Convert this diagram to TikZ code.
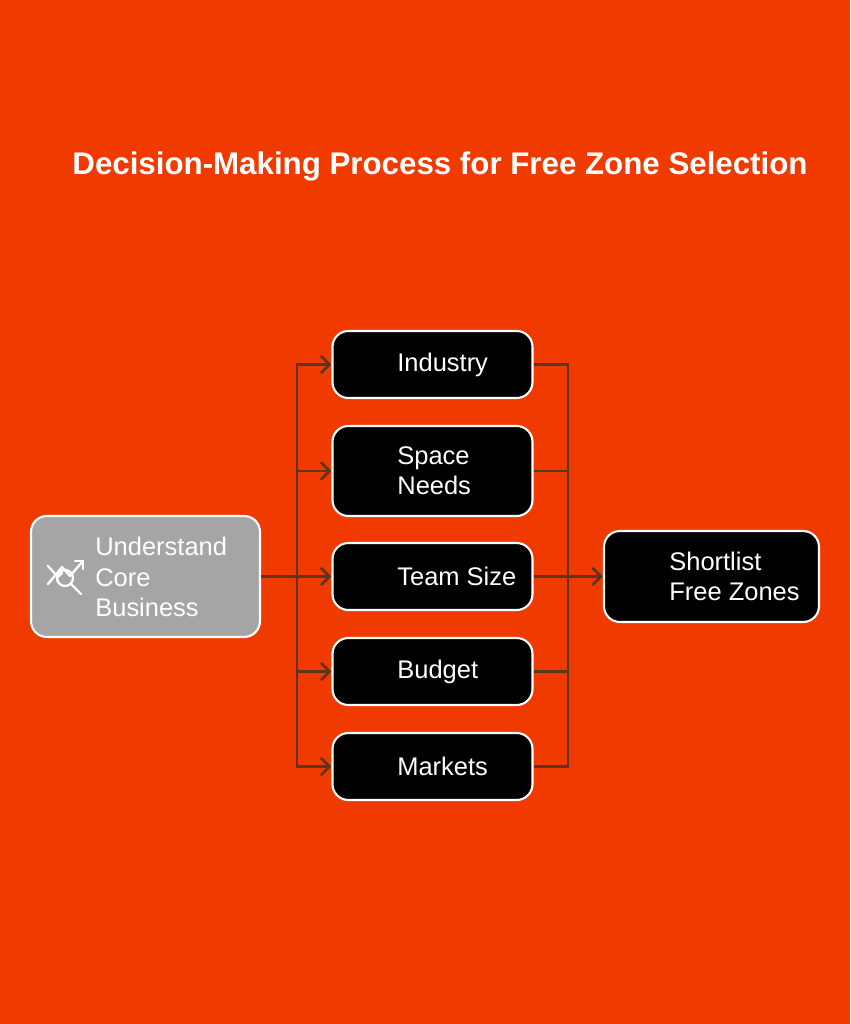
\documentclass[tikz,border=0pt]{standalone}
\usepackage{fontspec}
\setmainfont{Liberation Sans}
\usetikzlibrary{arrows.meta}
\definecolor{bgorange}{HTML}{F03A00}
\definecolor{linebrown}{HTML}{5C3420}
\definecolor{boxgrey}{HTML}{A5A5A5}
\tikzset{
  stepbox/.style={draw=white, line width=1.2pt, fill=black, rounded corners=9pt,
    minimum width=4cm, minimum height=1.34cm},
  steptext/.style={text=white, align=left, anchor=west, inner sep=0pt,
    font=\fontsize{14.5}{17.2}\selectfont},
  link/.style={draw=linebrown, line width=1.5pt},
  tip/.style={-{Straight Barb[length=5pt,width=10pt]}}
}
\begin{document}
\begin{tikzpicture}[x=0.02cm,y=-0.02cm]
  \useasboundingbox[fill=bgorange] (0,0) rectangle (850,1024);
  \node (title) at (440,166) [text=white, font=\bfseries\fontsize{17.8}{21}\selectfont]
    {Decision-Making Process for Free Zone Selection};

  \node (core) at (145.5,576.5) [draw=white, line width=1.2pt, fill=boxgrey,
    rounded corners=9pt, minimum width=4.58cm, minimum height=2.42cm] {};
  \node (coretext) at (95,577) [steptext] {Understand\\Core\\Business};
  % icon
  \begin{scope}[white, line width=1.3pt, line cap=round, line join=round]
    \draw (48,584) -- (62,567) -- (70,576) -- (83,561);
    \draw (75,561) -- (83,561) -- (83,569);
    \draw (48,566) -- (58,577) -- (62,573);
    \draw (65,578) circle (8);
    \draw (71,584) -- (81,594);
  \end{scope}

  \node (industry) at (432.5,364.5) [stepbox] {};
  \node (space)    at (432.5,471)   [stepbox, minimum height=1.8cm] {};
  \node (team)     at (432.5,576.5) [stepbox] {};
  \node (budget)   at (432.5,671.5) [stepbox] {};
  \node (markets)  at (432.5,766.5) [stepbox] {};
  \node (shortlist) at (711.5,576.5) [stepbox, minimum width=4.3cm, minimum height=1.82cm] {};

  \node at (397,364.5) [steptext] {Industry};
  \node at (397,471)   [steptext] {Space\\Needs};
  \node at (397,576.5) [steptext] {Team Size};
  \node at (397,671.5) [steptext] {Budget};
  \node at (397,766.5) [steptext] {Markets};
  \node at (669,576.5) [steptext] {Shortlist\\Free Zones};

  \coordinate (split) at (297,576.5);
  \coordinate (join)  at (568,576.5);
  \draw[link] (core.east) -- (split);
  \foreach \n in {industry,space,team,budget,markets} {
    \draw[link,tip] (split) |- (\n.west);
    \draw[link] (\n.east) -| (join);
  }
  \draw[link,tip] (join) -- (shortlist.west);
\end{tikzpicture}
\end{document}
